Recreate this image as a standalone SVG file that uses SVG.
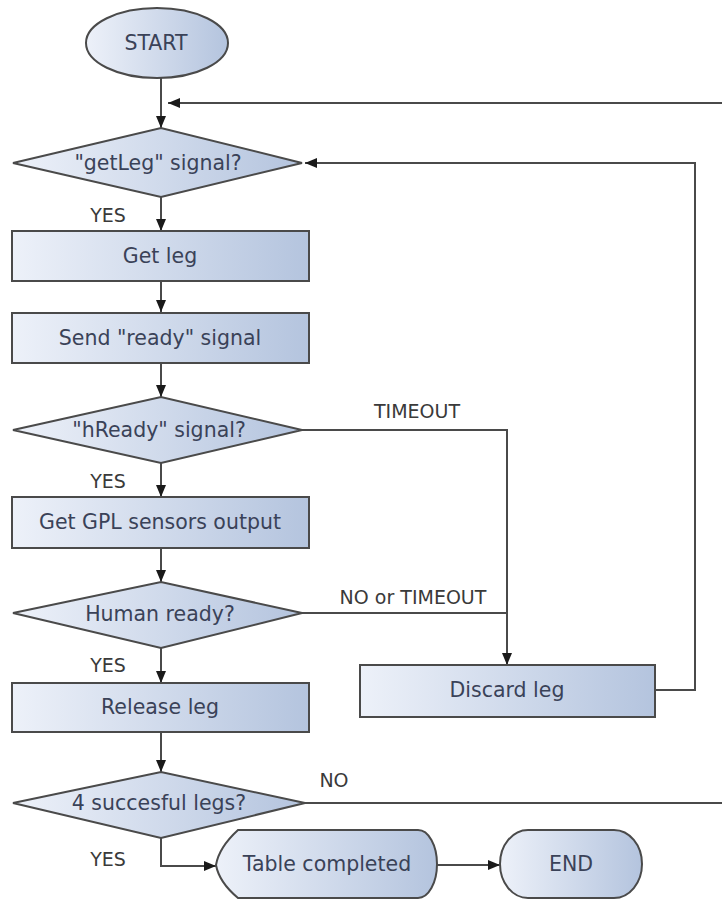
<svg xmlns="http://www.w3.org/2000/svg" width="722" height="899" viewBox="0 0 722 899">
  <defs>
    <linearGradient id="fillGrad" x1="0" y1="0" x2="1" y2="0">
      <stop offset="0" stop-color="#edf1f9"/>
      <stop offset="1" stop-color="#b4c4de"/>
    </linearGradient>
    <marker id="arrow" viewBox="0 0 12 10" refX="12" refY="5" markerWidth="12" markerHeight="10" markerUnits="userSpaceOnUse" orient="auto">
      <path d="M0,0 L12,5 L0,10 z" fill="#1a1a1a"/>
    </marker>
    <style>
      .shape { fill: url(#fillGrad); stroke: #4a4a4a; stroke-width: 2; }
      .lbl { font-family: "DejaVu Sans", "Liberation Sans", sans-serif; font-size: 20.5px; fill: #3a4258; text-anchor: middle; dominant-baseline: central; }
      .edge { font-family: "DejaVu Sans", "Liberation Sans", sans-serif; font-size: 19px; fill: #3a3a3a; text-anchor: middle; dominant-baseline: central; }
      .conn { fill: none; stroke: #4a4a4a; stroke-width: 2; }
      .conn.arr { marker-end: url(#arrow); }
    </style>
  </defs>

  <rect width="722" height="899" fill="#ffffff"/>

  <!-- connectors -->
  <g id="connectors">
    <path class="conn arr" d="M161,78 V128"/>
    <path class="conn arr" d="M722,103 H168"/>
    <path class="conn arr" d="M161,197 V231"/>
    <path class="conn arr" d="M161,281 V312"/>
    <path class="conn arr" d="M161,363 V397"/>
    <path class="conn arr" d="M161,463 V497"/>
    <path class="conn arr" d="M302,430 H507 V665"/>
    <path class="conn arr" d="M161,548 V582"/>
    <path class="conn" d="M302,613 H507"/>
    <path class="conn arr" d="M161,648 V683"/>
    <path class="conn arr" d="M655,690 H695 V163 H305"/>
    <path class="conn arr" d="M161,732 V772"/>
    <path class="conn" d="M305,803 H722"/>
    <path class="conn arr" d="M161,838 V866 H216"/>
    <path class="conn arr" d="M437,865 H500"/>
    <text class="edge" x="108" y="215">YES</text>
    <text class="edge" x="108" y="481">YES</text>
    <text class="edge" x="108" y="665">YES</text>
    <text class="edge" x="108" y="859">YES</text>
    <text class="edge" x="417" y="411">TIMEOUT</text>
    <text class="edge" x="413" y="597">NO or TIMEOUT</text>
    <text class="edge" x="334" y="780">NO</text>
  </g>

  <g id="start">
    <ellipse class="shape" cx="157" cy="43" rx="71" ry="35"/>
    <text class="lbl" x="156" y="43">START</text>
  </g>

  <g id="getleg-signal">
    <polygon class="shape" points="13,163 161,128 302,163 161,197"/>
    <text class="lbl" x="158" y="163">"getLeg" signal?</text>
  </g>

  <g id="get-leg">
    <rect class="shape" x="12" y="231" width="297" height="50"/>
    <text class="lbl" x="160" y="256">Get leg</text>
  </g>

  <g id="send-ready">
    <rect class="shape" x="12" y="313" width="297" height="50"/>
    <text class="lbl" x="160" y="338">Send "ready" signal</text>
  </g>

  <g id="hready-signal">
    <polygon class="shape" points="13,430 161,397 302,430 161,463"/>
    <text class="lbl" x="159" y="430">"hReady" signal?</text>
  </g>

  <g id="get-gpl">
    <rect class="shape" x="12" y="497" width="297" height="51"/>
    <text class="lbl" x="160" y="522">Get GPL sensors output</text>
  </g>

  <g id="human-ready">
    <polygon class="shape" points="13,613 161,582 302,613 161,648"/>
    <text class="lbl" x="160" y="614">Human ready?</text>
  </g>

  <g id="release-leg">
    <rect class="shape" x="12" y="683" width="297" height="49"/>
    <text class="lbl" x="160" y="707">Release leg</text>
  </g>

  <g id="discard-leg">
    <rect class="shape" x="360" y="665" width="295" height="52"/>
    <text class="lbl" x="507" y="690">Discard leg</text>
  </g>

  <g id="four-legs">
    <polygon class="shape" points="13,803 161,772 305,803 161,838"/>
    <text class="lbl" x="159" y="803">4 succesful legs?</text>
  </g>

  <g id="table-completed">
    <path class="shape" d="M238,830 H418 A19,34 0 0 1 418,898 H238 C226,888 218,876 216,865 C218,853 226,841 238,830 Z"/>
    <text class="lbl" x="327" y="864">Table completed</text>
  </g>

  <g id="end">
    <path class="shape" d="M528,830 H614 A28,34 0 0 1 614,898 H528 A28,34 0 0 1 528,830 Z"/>
    <text class="lbl" x="571" y="864">END</text>
  </g>
</svg>
